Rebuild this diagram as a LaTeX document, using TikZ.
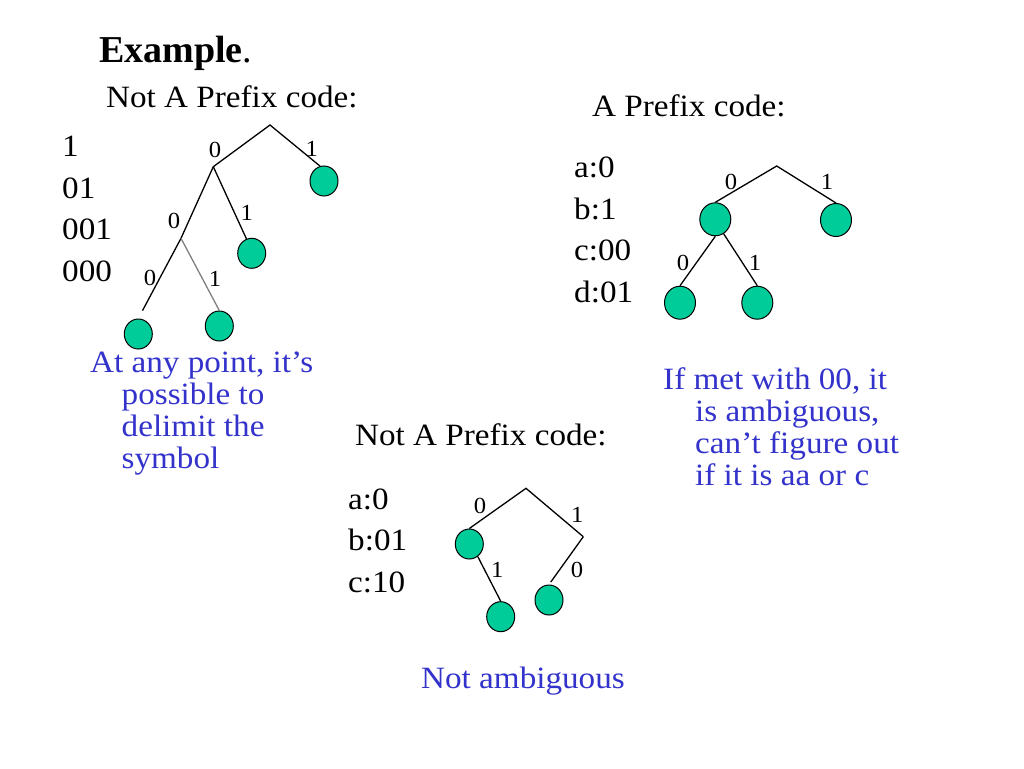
\documentclass[tikz,border=0pt]{standalone}
\usepackage{fontspec}
\setmainfont{Liberation Serif}[FakeStretch=1.07]
\newfontfamily\titlefont{Liberation Serif}
\usetikzlibrary{shapes.geometric}
\definecolor{leafgreen}{RGB}{0,204,153}
\definecolor{noteblue}{RGB}{51,51,204}
\tikzset{
  leaf/.style={ellipse,draw=black,fill=leafgreen,line width=1pt,minimum width=28pt,minimum height=30pt,inner sep=0pt},
  bigleaf/.style={leaf,minimum width=31pt,minimum height=33pt},
  edge/.style={draw=black,line width=1.3pt},
  grayedge/.style={draw=gray,line width=1.3pt},
  bit/.style={font=\fontsize{23}{23}\selectfont,inner sep=0pt},
  body/.style={font=\fontsize{31}{41.5}\selectfont,inner sep=0pt,anchor=base west,align=left},
  note/.style={font=\fontsize{31}{31.7}\selectfont,text=noteblue,inner sep=0pt,anchor=base west,align=left}
}
\begin{document}
\begin{tikzpicture}[x=1pt,y=-1pt]
\useasboundingbox[fill=white] (0,0) rectangle (1024,768);

% headings
\node[body,font=\titlefont\fontsize{38}{42}\selectfont] (title) at (99,63) {\textbf{Example}.};
\node[body] (h1) at (106,107) {Not A Prefix code:};
\node[body] (h2) at (592,116) {A Prefix code:};
\node[body] (h3) at (355,445) {Not A Prefix code:};

% code lists (positioned by the baseline of their last line)
\node[body] (list1) at (62,281) {1\\01\\001\\000};
\node[body] (list2) at (574,302) {a:0\\b:1\\c:00\\d:01};
\node[body] (list3) at (348,592) {a:0\\b:01\\c:10};

% notes (positioned by the baseline of their last line)
\node[note] (n1) at (90,468) {At any point, it’s\\\hspace*{31.5pt}possible to\\\hspace*{31.5pt}delimit the\\\hspace*{31.5pt}symbol};
\node[note] (n2) at (663,485) {If met with 00, it\\\hspace*{32pt}is ambiguous,\\\hspace*{32pt}can’t figure out\\\hspace*{32pt}if it is aa or c};
\node[note] (n3) at (421,688) {Not ambiguous};

% tree 1
\coordinate (t1r) at (270,125);
\coordinate (t1a) at (213.3,166.7);
\coordinate (t1b) at (181,238.3);
\node[leaf] (t1l1) at (324,181) {};
\node[leaf] (t1l2) at (251.7,253.3) {};
\node[leaf] (t1l3) at (138.3,334) {};
\node[leaf] (t1l4) at (219.3,326) {};
\draw[edge] (t1a) -- (t1r) -- (t1l1.105);
\draw[edge] (t1a) -- (t1l2.110);
\draw[edge] (t1a) -- (t1b);
\draw[edge,shorten >=9pt] (t1b) -- (t1l3.north);
\draw[grayedge] (t1b) -- (t1l4.north);
\node[bit] (b1) at (215,150) {0};
\node[bit] (b2) at (311.7,149) {1};
\node[bit] (b3) at (174,221) {0};
\node[bit] (b4) at (246.7,213) {1};
\node[bit] (b5) at (150,278) {0};
\node[bit] (b6) at (215,279) {1};

% tree 2
\coordinate (t2r) at (776.7,166);
\node[bigleaf] (t2a) at (715.3,219.3) {};
\node[bigleaf] (t2b) at (836,220) {};
\node[bigleaf] (t2c) at (680,302.7) {};
\node[bigleaf] (t2d) at (757.3,302.7) {};
\draw[edge] (t2a.north) -- (t2r) -- (t2b.north);
\draw[edge] (t2a.south) -- (t2c.north);
\draw[edge] (t2a.-60) -- (t2d.north);
\node[bit] (b7) at (731,182) {0};
\node[bit] (b8) at (827,182) {1};
\node[bit] (b9) at (683,263) {0};
\node[bit] (b10) at (755,263) {1};

% tree 3
\coordinate (t3r) at (526,488.3);
\coordinate (t3j) at (583.3,536.7);
\node[leaf] (t3a) at (469.3,544) {};
\node[leaf] (t3b) at (500.7,616.7) {};
\node[leaf] (t3c) at (549,600) {};
\draw[edge] (t3a.north) -- (t3r) -- (t3j);
\draw[edge,shorten >=3pt] (t3j) -- (t3c.north);
\draw[edge] (t3a.-56) -- (t3b.north);
\node[bit] (b11) at (480,506) {0};
\node[bit] (b12) at (577.3,515) {1};
\node[bit] (b13) at (497.3,570) {1};
\node[bit] (b14) at (577,570) {0};
\end{tikzpicture}
\end{document}
